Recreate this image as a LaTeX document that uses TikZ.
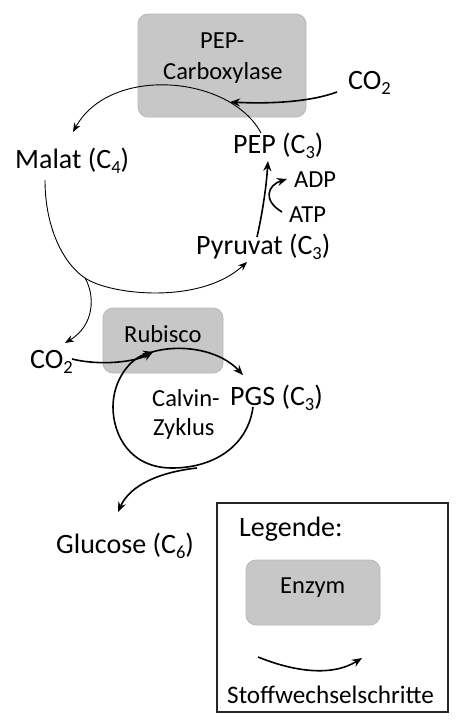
\documentclass[tikz,border=0pt]{standalone}
\usepackage{fontspec}
\setmainfont{Carlito}
\usetikzlibrary{arrows.meta}
\newcommand\subs[1]{\raisebox{-0.2em}{\scalebox{0.66}{#1}}}
\begin{document}
\begin{tikzpicture}[x=1pt,y=-1pt,
  lbl/.style={inner sep=0pt,anchor=base west,font=\fontsize{28}{33}\selectfont},
  sml/.style={inner sep=0pt,anchor=base west,font=\fontsize{24.5}{29}\selectfont},
  enzbox/.style={draw=black!28,fill=black!22,rounded corners=10pt,line width=0.8pt,inner sep=0pt},
  thinarrow/.style={line width=0.9pt,-{Stealth[length=9pt,width=7pt]}},
  thickarrow/.style={line width=1.6pt,-{Stealth[length=10pt,width=8pt]}},
  thickline/.style={line width=1.6pt},
  thinline/.style={line width=0.9pt},
]
\useasboundingbox (0,0) rectangle (457,723);
% enzyme boxes
\node[enzbox,minimum width=168pt,minimum height=103pt] (pepc) at (222,65.5) {};
\node[enzbox,minimum width=120pt,minimum height=65pt] (rub) at (163,340.5) {};
% legend
\node[draw=black!85,line width=1.2pt,minimum width=231pt,minimum height=209pt,inner sep=0pt] (leg) at (332.5,607.5) {};
\node[enzbox,minimum width=134pt,minimum height=65pt] (enz) at (313,592.5) {};

% texts
\node[sml] (pepct1) at (200,48) {PEP-};
\node[sml] (pepct2) at (163,79) {Carboxylase};
\node[lbl] (co2a) at (348,89) {CO\subs{2}};
\node[lbl] (pep) at (233,153) {PEP (C\subs{3})};
\node[lbl] (malat) at (15,168) {Malat (C\subs{4})};
\node[sml] (adp) at (294,187) {ADP};
\node[sml] (atp) at (289,222) {ATP};
\node[lbl] (pyr) at (196,254) {Pyruvat (C\subs{3})};
\node[sml] (rubt) at (124,342) {Rubisco};
\node[lbl] (co2b) at (30,368) {CO\subs{2}};
\node[lbl] (pgs) at (230,405) {PGS (C\subs{3})};
\node[sml] (calv1) at (152,406) {Calvin-};
\node[sml] (calv2) at (153,435) {Zyklus};
\node[lbl] (glc) at (56,553) {Glucose (C\subs{6})};
\node[lbl] (legt) at (239,536) {Legende:};
\node[sml] (enzt) at (280,593) {Enzym};
\node[sml,font=\fontsize{25.2}{30}\selectfont] (stw) at (227,703) {Stoffwechselschritte};

% coordinates
\coordinate (co2aS) at (337,92);
\coordinate (pepcIn) at (230,102);
\coordinate (pepS) at (261,133);
\coordinate (malIn) at (73,132);
\coordinate (malS) at (45,180);
\coordinate (br) at (85,278);
\coordinate (pyrIn) at (247,262);
\coordinate (co2bIn) at (65,343);
\coordinate (co2bS) at (72,359);
\coordinate (rubIn) at (153,352);
\coordinate (pyrS) at (257,237);
\coordinate (pepIn) at (268,161);
\coordinate (atpS) at (282,212);
\coordinate (adpIn) at (287,179);
\coordinate (pgsS) at (253,407);
\coordinate (cbot) at (172,468);
\coordinate (cleft) at (113,407);
\coordinate (ctop) at (140,357);
\coordinate (pgsIn) at (243,375);
\coordinate (glcS) at (197,468);
\coordinate (glcIn) at (118,512);
\coordinate (legS) at (258,657);
\coordinate (legE) at (362,658);

% connectors
\draw[thickarrow] (co2aS) .. controls (310,102) and (270,104) .. (pepcIn);
\draw[thinarrow] (pepS) .. controls (230,75) and (110,65) .. (malIn);
\draw[thinline] (malS) .. controls (45,230) and (65,265) .. (br);
\draw[thinarrow] (br) .. controls (110,295) and (200,305) .. (pyrIn);
\draw[thinarrow] (br) .. controls (95,295) and (95,325) .. (co2bIn);
\draw[thickarrow] (co2bS) .. controls (100,366) and (135,362) .. (rubIn);
\draw[thickarrow] (pyrS) .. controls (262,215) and (266,190) .. (pepIn);
\draw[thickarrow] (atpS) .. controls (262,200) and (268,185) .. (adpIn);
\draw[thickarrow] (pgsS) .. controls (248,445) and (215,468) .. (cbot)
   .. controls (130,468) and (113,435) .. (cleft)
   .. controls (113,380) and (130,358) .. (rubIn);
\draw[thickarrow] (ctop) .. controls (165,343) and (215,345) .. (pgsIn);
\draw[thickarrow] (glcS) .. controls (160,472) and (130,485) .. (glcIn);
\draw[thickarrow] (legS) .. controls (290,670) and (330,678) .. (legE);
\end{tikzpicture}
\end{document}
